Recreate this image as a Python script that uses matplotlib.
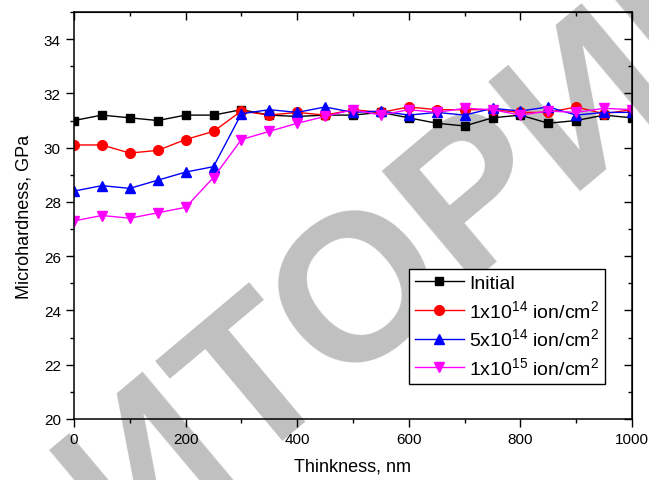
import matplotlib
matplotlib.use("Agg")
import matplotlib.pyplot as plt
from matplotlib.ticker import MultipleLocator

plt.rcParams['font.family'] = ['Liberation Sans', 'DejaVu Sans']
plt.rcParams['mathtext.fontset'] = 'custom'
plt.rcParams['mathtext.rm'] = 'Liberation Sans'
plt.rcParams['mathtext.it'] = 'Liberation Sans'

thickness = [0, 50, 100, 150, 200, 250, 300, 350, 400, 450, 500,
             550, 600, 650, 700, 750, 800, 850, 900, 950, 1000]
initial = [31.0, 31.2, 31.1, 31.0, 31.2, 31.2, 31.4, 31.2, 31.15, 31.2, 31.2,
           31.3, 31.1, 30.9, 30.8, 31.1, 31.2, 30.9, 31.0, 31.2, 31.1]
dose_1e14 = [30.1, 30.1, 29.8, 29.9, 30.3, 30.6, 31.35, 31.2, 31.3, 31.2, 31.4,
             31.3, 31.5, 31.4, 31.4, 31.4, 31.3, 31.3, 31.5, 31.25, 31.4]
dose_5e14 = [28.4, 28.6, 28.5, 28.8, 29.1, 29.3, 31.25, 31.4, 31.3, 31.5, 31.3,
             31.35, 31.2, 31.3, 31.2, 31.45, 31.35, 31.5, 31.2, 31.3, 31.3]
dose_1e15 = [27.3, 27.5, 27.4, 27.6, 27.8, 28.9, 30.3, 30.6, 30.9, 31.15, 31.4,
             31.2, 31.4, 31.3, 31.45, 31.4, 31.2, 31.35, 31.3, 31.45, 31.4]

labels = ['Initial',
          r'1x10$^{14}$ ion/cm$^{2}$',
          r'5x10$^{14}$ ion/cm$^{2}$',
          r'1x10$^{15}$ ion/cm$^{2}$']

fig = plt.figure(figsize=(6.49, 4.81), dpi=100)
ax = fig.add_axes([74/649, 1-420/481, (632-74)/649, (420-13)/481])
ax.patch.set_alpha(0)

# watermark
fig.text(151/649, 1-469/481, 'РЕПОЗИТОРИЙ', rotation=40, rotation_mode='anchor',
         ha='center', va='center', fontsize=150, fontweight='bold',
         color='#c0c0c0', zorder=-1)

ax.plot(thickness, initial, '-s', color='black', lw=1, ms=6, label=labels[0])
ax.plot(thickness, dose_1e14, '-o', color='#ff0000', lw=1, ms=7, label=labels[1])
ax.plot(thickness, dose_5e14, '-^', color='#0000ff', lw=1, ms=7.5, label=labels[2])
ax.plot(thickness, dose_1e15, '-v', color='#ff00ff', lw=1, ms=7.5, label=labels[3])

ax.set_xlim(0, 1000)
ax.set_ylim(20, 35)
ax.xaxis.set_major_locator(MultipleLocator(200))
ax.xaxis.set_minor_locator(MultipleLocator(100))
ax.yaxis.set_major_locator(MultipleLocator(2))
ax.yaxis.set_minor_locator(MultipleLocator(1))
ax.tick_params(which='both', direction='out', labelsize=11, width=1)
ax.tick_params(which='major', length=6)
ax.tick_params(which='minor', length=3)
for s in ax.spines.values():
    s.set_linewidth(1.1)

top = ax.secondary_xaxis('top')
top.xaxis.set_major_locator(MultipleLocator(200))
top.xaxis.set_minor_locator(MultipleLocator(100))
top.tick_params(which='both', direction='in', labeltop=False, width=1)
top.tick_params(which='major', length=6)
top.tick_params(which='minor', length=3)
right = ax.secondary_yaxis('right')
right.yaxis.set_major_locator(MultipleLocator(2))
right.yaxis.set_minor_locator(MultipleLocator(1))
right.tick_params(which='both', direction='in', labelright=False, width=1)
right.tick_params(which='major', length=6)
right.tick_params(which='minor', length=3)

ax.set_xlabel('Thinkness, nm', fontsize=13, labelpad=8)
ax.set_ylabel('Microhardness, GPa', fontsize=13, labelpad=8)

leg = ax.legend(loc='lower right', bbox_to_anchor=(0.952, 0.086), fontsize=14,
                frameon=True, fancybox=False, edgecolor='black', framealpha=1,
                handlelength=2.5, handletextpad=0.3, labelspacing=0.35,
                borderpad=0.3, borderaxespad=0)
leg.get_frame().set_linewidth(1)

fig.savefig('out.png', dpi=100)
